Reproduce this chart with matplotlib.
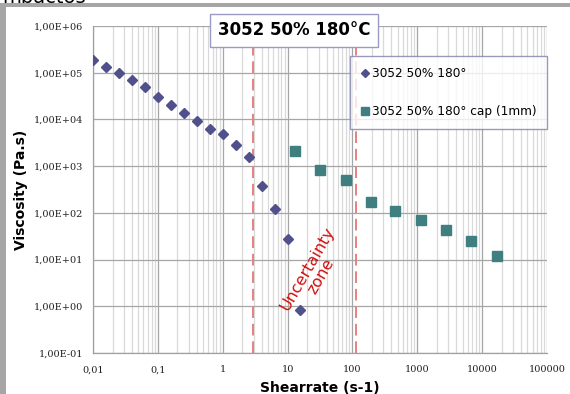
import matplotlib
matplotlib.use("Agg")
import matplotlib.pyplot as plt
from matplotlib.patches import Rectangle
from matplotlib.lines import Line2D
from matplotlib.ticker import FixedLocator, LogLocator, NullFormatter

# ---- data ----
plate_x = [0.01, 0.0158, 0.0251, 0.0398, 0.063, 0.1, 0.158, 0.251, 0.398, 0.63,
           1.0, 1.58, 2.51, 3.98, 6.3, 10.0, 15.8]
plate_y = [1.84e5, 1.34e5, 1.0e5, 7.0e4, 4.9e4, 3.06e4, 2.0e4, 1.35e4, 9.1e3, 6.2e3,
           4.8e3, 2.9e3, 1.54e3, 3.7e2, 118, 26.9, 0.82]
cap_x = [12.9, 31.5, 78.3, 190, 461, 1146, 2818, 6839, 16788]
cap_y = [2065, 834, 494, 172, 110, 69.7, 42.6, 25.2, 12.0]
zone_bounds = [2.92, 113]
x_ticks = [0.01, 0.1, 1, 10, 100, 1000, 10000, 100000]
x_ticklabels = ["0,01", "0,1", "1", "10", "100", "1000", "10000", "100000"]
y_ticks = [1e-1, 1e0, 1e1, 1e2, 1e3, 1e4, 1e5, 1e6]
y_ticklabels = ["1,00E-01", "1,00E+00", "1,00E+01", "1,00E+02", "1,00E+03",
                "1,00E+04", "1,00E+05", "1,00E+06"]
series_labels = ["3052 50% 180°", "3052 50% 180° cap (1mm)"]
title_text = "3052 50% 180°C"

W, H = 570, 394
fig = plt.figure(figsize=(W / 100, H / 100), dpi=100)
fig.patch.set_facecolor("white")

# gray frame (top and left bands) and the cut-off heading above it
fig.text(2 / W, 1 - 3 / H, "mpactos", fontsize=14, va="baseline", ha="left",
         color="black", zorder=0)
fig.patches.append(Rectangle((0, 1 - 7 / H), 1, 4 / H, transform=fig.transFigure,
                             facecolor="#a6a6a6", edgecolor="none", zorder=1))
fig.patches.append(Rectangle((0, 0), 6 / W, 1 - 3 / H, transform=fig.transFigure,
                             facecolor="#a6a6a6", edgecolor="none", zorder=1))

ax = fig.add_axes([93 / W, 1 - 353 / H, (547 - 93) / W, (353 - 26) / H])
ax.set_xscale("log")
ax.set_yscale("log")
ax.set_xlim(0.01, 100000)
ax.set_ylim(0.1, 1e6)

ax.xaxis.set_major_locator(FixedLocator(x_ticks))
ax.xaxis.set_minor_locator(LogLocator(base=10, subs=range(2, 10), numticks=20))
ax.xaxis.set_minor_formatter(NullFormatter())
ax.set_xticks(x_ticks)
ax.set_xticklabels(x_ticklabels)
ax.yaxis.set_major_locator(FixedLocator(y_ticks))
ax.yaxis.set_minor_locator(FixedLocator([]))
ax.set_yticks(y_ticks)
ax.set_yticklabels(y_ticklabels)

ax.grid(True, which="major", color="#a6a6a6", lw=0.9)
ax.grid(True, which="minor", axis="x", color="#d9d9d9", lw=0.9)
ax.set_axisbelow(True)
ax.tick_params(which="both", length=0)
ax.tick_params(axis="x", pad=9, labelsize=7, colors="#222222")
ax.tick_params(axis="y", pad=7, labelsize=7, colors="#222222")
for lab in ax.get_xticklabels() + ax.get_yticklabels():
    lab.set_family("DejaVu Serif")
for s in ["top", "right"]:
    ax.spines[s].set_visible(False)
for s in ["left", "bottom"]:
    ax.spines[s].set_color("#a0a0a0")
    ax.spines[s].set_linewidth(0.9)

for xb in zone_bounds:
    ax.axvline(xb, color="#e88080", lw=1.4, dashes=(6, 3), zorder=2)

ax.plot(plate_x, plate_y, linestyle="none", marker="D", markersize=5,
        color="#50508c", zorder=3)
ax.plot(cap_x, cap_y, linestyle="none", marker="s", markersize=6.5,
        color="#3f7f80", zorder=3)

ax.text(26, 5.2, "Uncertainty\nzone", rotation=60, color="#d01010",
        fontsize=11.5, ha="center", va="center", rotation_mode="anchor",
        linespacing=1.0, zorder=4)

ax.set_xlabel("Shearrate (s-1)", fontsize=10, fontweight="bold", labelpad=5)
ax.set_ylabel("Viscosity (Pa.s)", fontsize=10, fontweight="bold", labelpad=4)

handles = [
    Line2D([], [], linestyle="none", marker="D", markersize=4.5, color="#50508c"),
    Line2D([], [], linestyle="none", marker="s", markersize=6, color="#3f7f80"),
]
leg = ax.legend(handles, series_labels, loc="upper left",
                bbox_to_anchor=((350 - 93) / 454, (353 - 56) / 327),
                borderaxespad=0, fontsize=8.7, frameon=True, fancybox=False,
                labelspacing=2.1, handlelength=0.6, handletextpad=0.3,
                borderpad=0.9)
leg.get_frame().set_edgecolor("#8080a8")
leg.get_frame().set_linewidth(1.0)

fig.text(294 / W, 1 - 30 / H, title_text, fontsize=12, fontweight="bold",
         ha="center", va="center", zorder=5,
         bbox=dict(boxstyle="square,pad=0.45", facecolor="white",
                   edgecolor="#9a9ac4", lw=1.0))

fig.savefig("out.png", dpi=100)
